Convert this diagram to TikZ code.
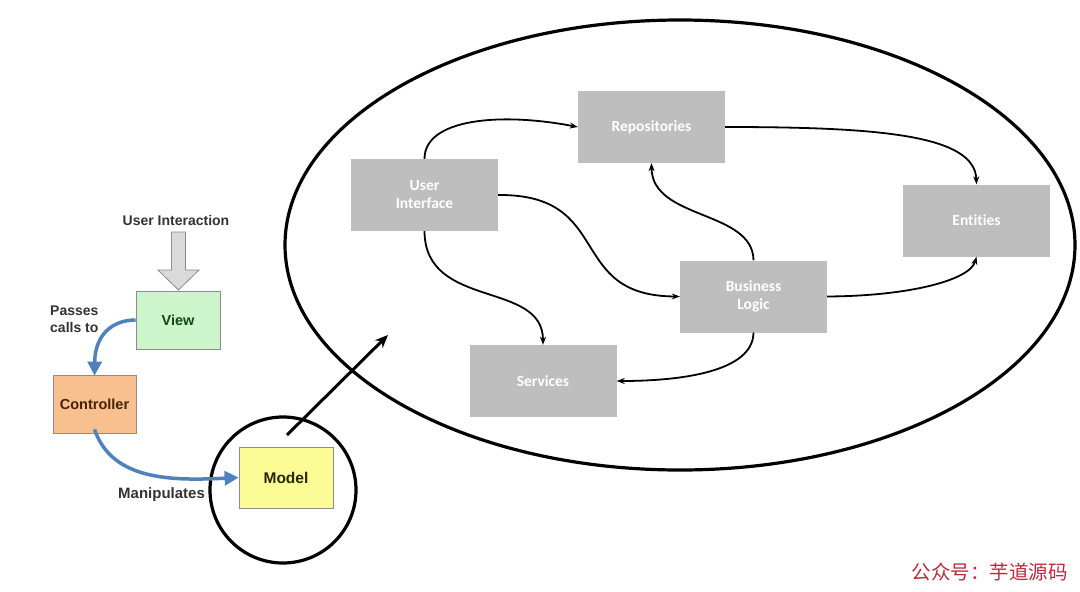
\documentclass[tikz,border=0pt]{standalone}
\usepackage{fontspec}
\setmainfont{Liberation Sans}
\newfontfamily\boxfont[Ligatures={NoCommon}]{Carlito}
\newfontfamily\cjkfont{Noto Sans CJK SC}
\usetikzlibrary{shapes.geometric,arrows.meta}
\definecolor{boxgray}{RGB}{190,190,190}
\definecolor{viewgreen}{RGB}{204,245,204}
\definecolor{ctrlorange}{RGB}{249,192,143}
\definecolor{modelyellow}{RGB}{252,252,150}
\definecolor{flowblue}{RGB}{79,129,189}
\definecolor{darkgreen}{RGB}{20,70,20}
\definecolor{darkbrown}{RGB}{70,35,5}
\definecolor{darkolive}{RGB}{40,40,10}
\definecolor{wmred}{RGB}{190,40,60}
\definecolor{blockgray}{RGB}{218,218,218}
\tikzset{
  layerbox/.style={fill=boxgray, draw=none, minimum width=147, minimum height=72, inner sep=0,
     text=white, font=\boxfont\bfseries\fontsize{15.5}{18}\selectfont, align=center},
  mvcbox/.style={draw=black!45, line width=0.8pt, inner sep=0, font=\bfseries\fontsize{14.5}{17}\selectfont},
  conn/.style={line width=1.8pt, -{Stealth[length=8pt,width=6pt]}},
  blueconn/.style={draw=flowblue, line width=3.5pt, -{Triangle[length=14pt,width=14pt]}},
  lbl/.style={font=\bfseries\fontsize{14}{17}\selectfont, text=black!80, inner sep=0},
}
\begin{document}
\begin{tikzpicture}[x=1pt,y=-1pt]
\useasboundingbox (0,0) rectangle (1080,592);
\fill[white] (0,0) rectangle (1080,592);

% big ellipse and small circle
\node[draw, ellipse, line width=3.2pt, minimum width=790, minimum height=450, inner sep=0] (big) at (680,245) {};
\node[draw, circle, line width=3.2pt, minimum size=146, inner sep=0] (zoomc) at (283,490) {};

% layer boxes
\node[layerbox] (ui) at (424.5,195) {User\\Interface};
\node[layerbox] (repo) at (651.5,127) {Repositories};
\node[layerbox] (ent) at (976.5,220.5) {Entities};
\node[layerbox] (bl) at (753.5,296.5) {Business\\Logic};
\node[layerbox] (svc) at (543,381) {Services};

% layer connectors
\draw[conn] (ui.north) .. controls ++(0,-40) and (500,112) .. (repo.west);
\draw[conn] (repo.east) .. controls (880,127) and (975,135) .. (ent.north);
\draw[conn] (ui.east) .. controls (615,194) and (565,296) .. (bl.west);
\draw[conn] (bl.north) .. controls (753,210) and (652,220) .. (repo.south);
\draw[conn] (bl.east) .. controls (910,296) and (970,280) .. (ent.south);
\draw[conn] (ui.south) .. controls (425,310) and (543,280) .. (svc.north);
\draw[conn] (bl.south) .. controls (753,372) and (680,381) .. (svc.east);

% MVC part
\node[lbl] (ui_lbl) at (176,220) {User Interaction};
\node[mvcbox, fill=viewgreen, text=darkgreen, minimum width=84, minimum height=58] (view) at (178,320) {View};
\node[mvcbox, fill=ctrlorange, text=darkbrown, minimum width=83, minimum height=58] (ctrl) at (94.5,404) {Controller};
\node[mvcbox, fill=modelyellow, text=darkolive, minimum width=94, minimum height=61, font=\bfseries\fontsize{15.5}{17}\selectfont] (model) at (286,477.5) {Model};

% block arrow
\draw[draw=black!45, fill=blockgray, line width=0.8pt]
  (171.5,232) -- (185.5,232) -- (185.5,270) -- (199,270) -- (178.5,290) -- (158,270) -- (171.5,270) -- cycle;

% blue arrows
\draw[blueconn] (view.west) .. controls (112,320) and (95,335) .. ([yshift=-1]ctrl.north);
\draw[blueconn] ([yshift=4]ctrl.south) .. controls (112,480) and (170,481) .. (model.west);
\node[lbl, align=left, anchor=west] (passes) at (50,319.5) {Passes\\calls to};
\node[lbl, anchor=west, font=\bfseries\fontsize{15}{17}\selectfont] (manip) at (118,495) {Manipulates};

% zoom arrow
\coordinate (zs) at (287,435);
\coordinate (ze) at (388,335);
\draw[line width=3pt, -{Stealth[length=13pt,width=11pt]}] (zs) -- (ze);

% watermark
\node[font=\cjkfont\fontsize{19.5}{22}\selectfont, text=wmred, anchor=east, inner sep=0] (wm) at (1068,572) {公众号：芋道源码};
\end{tikzpicture}
\end{document}
